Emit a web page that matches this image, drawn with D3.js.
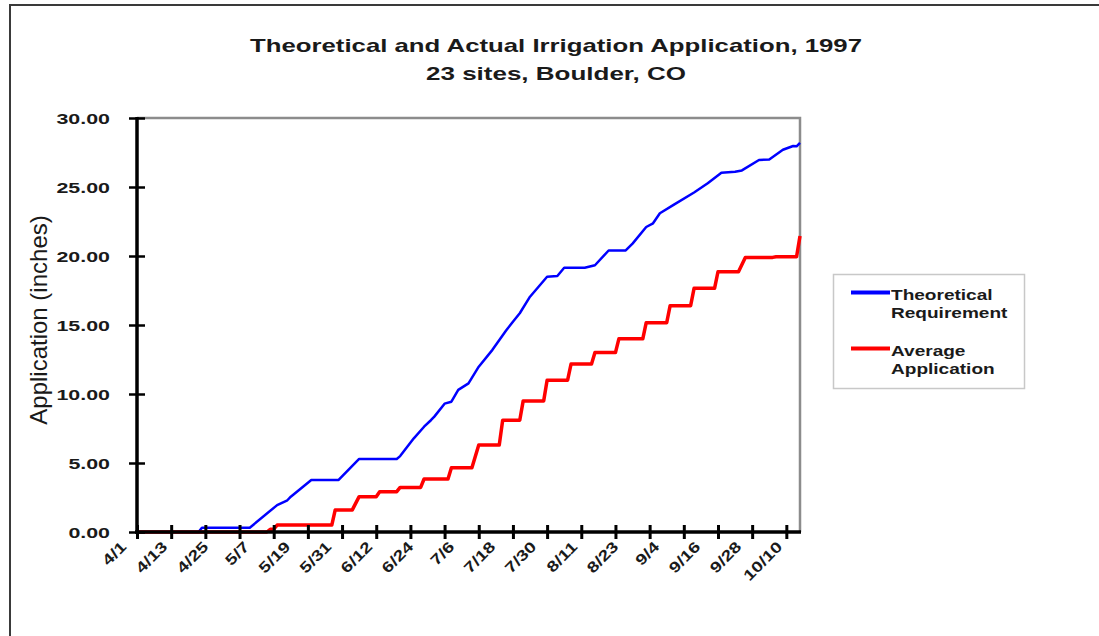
<!DOCTYPE html>
<html><head><meta charset="utf-8">
<script src="https://cdn.jsdelivr.net/npm/d3@7"></script>
<style>body{margin:0;background:#fff}svg{display:block}</style>
</head><body>
<svg id="c" width="1099" height="636"></svg>
<script>
// ---------- data ----------
const titleLines = ["Theoretical and Actual Irrigation Application, 1997", "23 sites, Boulder, CO"];
const yAxisTitle = "Application (inches)";
const yTicks = [0, 5, 10, 15, 20, 25, 30];
const xLabels = ["4/1","4/13","4/25","5/7","5/19","5/31","6/12","6/24","7/6","7/18","7/30","8/11","8/23","9/4","9/16","9/28","10/10"];
const xLabelDays = [0,12,24,36,48,60,72,84,96,108,120,132,144,156,168,180,192];
const xTickDays = [0,10,20,30,40,50,60,70,80,90,100,110,120,130,140,150,160,170,180,190];
const lastDay = 194; // 10/12

// Theoretical Requirement (day index from 4/1, inches)
const reqDays   = [0,18,19,33,41,44,45,51,59,65,76,77,81,84,86,87,90,92,94,97,100,104,108,110,112,115,120,123,125,131,134,138,143,145,149,151,153,157,163,167,171,175,177,182,185,189,192,193,194];
const reqValues = [0,0,0.31,0.31,1.95,2.3,2.56,3.77,3.77,5.29,5.29,5.5,6.79,7.63,8.1,8.36,9.3,9.44,10.3,10.77,11.98,13.2,14.6,15.24,15.85,17.05,18.5,18.55,19.15,19.15,19.33,20.4,20.4,20.9,22.1,22.37,23.1,23.7,24.6,25.27,26.04,26.1,26.2,26.96,27.0,27.7,27.97,27.95,28.2];

// Average Application
const appDays   = [0,38,39,40,41,57,58,63,65,70,71,76,77,83,84,91,92,98,100,106,107,112,113,119,120,126,127,133,134,140,141,148,149,155,156,162,163,169,170,176,178,186,187,193,194];
const appValues = [0,0,0.2,0.2,0.5,0.5,1.6,1.6,2.56,2.56,2.92,2.92,3.23,3.23,3.84,3.84,4.65,4.65,6.3,6.3,8.1,8.1,9.5,9.5,11.0,11.0,12.17,12.17,13.0,13.0,14.0,14.0,15.17,15.17,16.4,16.4,17.66,17.66,18.86,18.86,19.9,19.9,19.95,19.95,21.45];

const legendLines = [["Theoretical","Requirement"],["Average","Application"]];
const seriesColors = ["#0000ff", "#ff0000"];

// ---------- drawing ----------
const svg = d3.select("#c");
const FONT = "'Liberation Sans', Arial, sans-serif";
const L = 137, R = 800, T = 118, B = 532;
const x = d3.scaleLinear().domain([0, lastDay]).range([L, R]);
const y = d3.scaleLinear().domain([0, 30]).range([B, T]);

function stretch(sel, k) {
  sel.each(function() {
    const w = this.getComputedTextLength();
    d3.select(this).attr("textLength", w * k).attr("lengthAdjust", "spacingAndGlyphs");
  });
}

// outer frame
svg.append("path").attr("d", "M10,636 V5 H1099").attr("fill", "none")
  .attr("stroke", "#3a3a3a").attr("stroke-width", 2);

// title
const titleSizes = [612, 260];
titleLines.forEach((t, i) => {
  svg.append("text").attr("x", 556).attr("y", 52 + i * 28)
    .attr("text-anchor", "middle").attr("font-family", FONT).attr("font-size", 18.5)
    .attr("font-weight", "bold").attr("fill", "#1a1a1a").text(t)
    .attr("textLength", titleSizes[i]).attr("lengthAdjust", "spacingAndGlyphs");
});

// plot border (top/right gray)
svg.append("path").attr("d", `M${L},${T} H${R} V${B}`).attr("fill", "none")
  .attr("stroke", "#8c8c8c").attr("stroke-width", 2.5);

// lines
const line = d3.line().x(d => x(d[0])).y(d => y(d[1]));
svg.append("path").datum(d3.zip(reqDays, reqValues)).attr("d", line)
  .attr("fill", "none").attr("stroke", seriesColors[0]).attr("stroke-width", 2.5)
  .attr("stroke-linejoin", "round");
svg.append("path").datum(d3.zip(appDays, appValues)).attr("d", line)
  .attr("fill", "none").attr("stroke", seriesColors[1]).attr("stroke-width", 3.5)
  .attr("stroke-linejoin", "round");

// y axis
const gy = svg.append("g").attr("transform", `translate(${L},0)`)
  .call(d3.axisLeft(y).tickValues(yTicks).tickFormat(d3.format(".2f")).tickSize(8).tickPadding(19));
gy.select(".domain").attr("stroke", "#000").attr("stroke-width", 3.5).attr("d", `M0,${T-1}V${B+2}`);
gy.selectAll(".tick line").attr("x1", 8).attr("x2", -8).attr("stroke", "#000").attr("stroke-width", 2.5);
gy.selectAll(".tick text").attr("font-family", FONT).attr("font-size", 15.5).attr("font-weight", "bold")
  .attr("fill", "#1a1a1a").attr("dy", "0.36em").call(stretch, 1.38);

// x axis ticks
const gx = svg.append("g").attr("transform", `translate(0,${B})`)
  .call(d3.axisBottom(x).tickValues(xTickDays).tickFormat("").tickSize(7));
gx.select(".domain").attr("stroke", "#000").attr("stroke-width", 3.5).attr("d", `M${L-2},0H${R+1}`);
gx.selectAll(".tick line").attr("y1", -7).attr("y2", 7).attr("stroke", "#000").attr("stroke-width", 3);

// x labels
const gxl = svg.append("g").attr("transform", `translate(0,${B})`)
  .call(d3.axisBottom(x).tickValues(xLabelDays).tickFormat((d, i) => xLabels[i]).tickSize(0));
gxl.select(".domain").remove();
gxl.selectAll(".tick text").attr("font-family", FONT).attr("font-size", 15).attr("font-weight", "bold")
  .attr("fill", "#1a1a1a").attr("text-anchor", "end")
  .attr("x", 0).attr("y", 0).attr("dy", "0.35em")
  .attr("transform", "translate(-14,12) rotate(-45)")
  .call(stretch, 1.28);

// y axis title
svg.append("text").attr("transform", "translate(47,320) rotate(-90)")
  .attr("text-anchor", "middle").attr("font-family", FONT).attr("font-size", 24)
  .attr("fill", "#1a1a1a").text(yAxisTitle);

// legend
svg.append("rect").attr("x", 833.5).attr("y", 274.5).attr("width", 191).attr("height", 114)
  .attr("fill", "#fff").attr("stroke", "#c8c8c8").attr("stroke-width", 1.5);
const legY = [292.5, 348.5];
legendLines.forEach((lines, i) => {
  svg.append("line").attr("x1", 851).attr("x2", 890).attr("y1", legY[i]).attr("y2", legY[i])
    .attr("stroke", seriesColors[i]).attr("stroke-width", 4);
  lines.forEach((t, j) => {
    svg.append("text").attr("x", 891).attr("y", legY[i] + 7 + j * 18)
      .attr("font-family", FONT).attr("font-size", 14).attr("font-weight", "bold")
      .attr("fill", "#1a1a1a").text(t).call(stretch, 1.36);
  });
});
</script>
</body></html>
